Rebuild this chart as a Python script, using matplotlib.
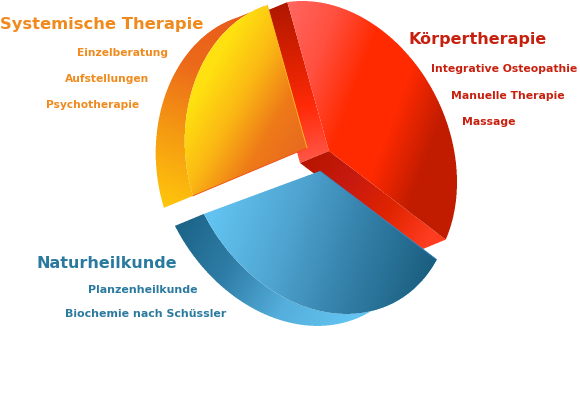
import numpy as np
import matplotlib
matplotlib.use("Agg")
import matplotlib.pyplot as plt
from matplotlib.path import Path
from matplotlib.colors import LinearSegmentedColormap

# Shares of the three slices (estimated from the angles in the picture)
slice_names = ["Körpertherapie", "Naturheilkunde", "Systemische Therapie"]
slice_shares = [37, 35, 28]

koerper_items = ["Integrative Osteopathie", "Manuelle Therapie", "Massage"]
natur_items = ["Planzenheilkunde", "Biochemie nach Schüssler"]
system_items = ["Einzelberatung", "Aufstellungen", "Psychotherapie"]

W, H = 580, 400
EXTRUDE = np.array([-29.0, 12.0])
SS = 3  # supersampling for the shape edges

fig = plt.figure(figsize=(5.8, 4.0), dpi=100)
ax = fig.add_axes([0, 0, 1, 1])
ax.set_xlim(0, W)
ax.set_ylim(H, 0)
ax.axis("off")


def arc_points(apex, t0, t1, shrink=0.0, shift0=(0, 0), shift1=(0, 0), n=80):
    # the pie is a tilted ellipse in pixel space, each slice is a bit off it
    u = np.linspace(0, 1, n)
    t = np.radians(t0 + (t1 - t0) * u)
    r = 1 - shrink * np.sin(np.pi * u)
    x = apex[0] + 128 * np.cos(t) * r + shift0[0] * (1 - u) + shift1[0] * u
    y = apex[1] + 150 * np.sin(t + np.radians(12)) * r + shift0[1] * (1 - u) + shift1[1] * u
    return np.column_stack([x, y])


def fill_gradient(points, p0, p1, stops):
    # linear gradient inside a polygon, edges smoothed with a supersampled mask
    cmap = LinearSegmentedColormap.from_list("g", stops)
    path = Path(np.vstack([points, points[:1]]))
    xs = (np.arange(W * SS) + 0.5) / SS
    ys = (np.arange(H * SS) + 0.5) / SS
    x0, y0 = points.min(axis=0)
    x1, y1 = points.max(axis=0)
    ix = (xs > x0 - 1) & (xs < x1 + 1)
    iy = (ys > y0 - 1) & (ys < y1 + 1)
    gx, gy = np.meshgrid(xs[ix], ys[iy])
    inside = path.contains_points(np.column_stack([gx.ravel(), gy.ravel()]))
    mask = np.zeros((H * SS, W * SS))
    mask[np.ix_(iy, ix)] = inside.reshape(gx.shape)
    alpha = mask.reshape(H, SS, W, SS).mean(axis=(1, 3))

    px, py = np.meshgrid(np.arange(W) + 0.5, np.arange(H) + 0.5)
    d = np.array(p1, float) - np.array(p0, float)
    f = ((px - p0[0]) * d[0] + (py - p0[1]) * d[1]) / (d @ d)
    rgba = cmap(np.clip(f, 0, 1))
    rgba[..., 3] = alpha
    ax.imshow(rgba, extent=(0, W, H, 0), interpolation="nearest", aspect="auto", zorder=fill_gradient.z)
    fill_gradient.z += 1


fill_gradient.z = 1

# angles of each slice from the shares
edges = -109 + np.cumsum([0] + slice_shares) * 3.6

apex_red = np.array([329.0, 151.0])
apex_blue = np.array([320.0, 171.0])
apex_yellow = np.array([307.0, 148.0])

# Körpertherapie
arc = arc_points(apex_red, edges[0], edges[1])
fill_gradient(np.array([apex_red, arc[0], arc[0] + EXTRUDE, apex_red + EXTRUDE]),
              (280, 5), (305, 160), ["#b01800", "#d82000", "#ff2a08", "#ff5545"])
fill_gradient(np.array([apex_red, arc[-1], arc[-1] + EXTRUDE, apex_red + EXTRUDE]),
              (305, 165), (425, 245), ["#b81500", "#c81a10", "#e02400", "#ff3c20"])
fill_gradient(np.vstack([[apex_red], arc]),
              (283, 20), (455, 85), ["#ff6660", "#ff5040", "#ff2a00", "#ff2a00", "#c21c00"])

# Systemische Therapie
arc = arc_points(apex_yellow, edges[2], edges[3], 0.08, (-3, 2), (2, 6))
fill_gradient(np.vstack([arc, (arc + EXTRUDE)[::-1]]),
              (180, 210), (255, 15), ["#ffc40c", "#f59a12", "#ec6a1a", "#e85a1c"])
fill_gradient(np.vstack([[apex_yellow], arc]),
              (200, 90), (305, 150), ["#ffe010", "#fbb814", "#ee7a18", "#e86a20"])
ax.plot([arc[0, 0], apex_yellow[0]], [arc[0, 1], apex_yellow[1]], color="#ee4a10", lw=0.6, zorder=12)
ax.plot([arc[-1, 0], apex_yellow[0]], [arc[-1, 1], apex_yellow[1]], color="#ffc020", lw=0.6, zorder=12)

# Naturheilkunde
arc = arc_points(apex_blue, edges[1], edges[2], 0.04, (0, 0), (-5, -3))
fill_gradient(np.vstack([arc, (arc + EXTRUDE)[::-1]]),
              (180, 225), (350, 320), ["#1c6488", "#2f7ea8", "#55aedb", "#62c3f0"])
fill_gradient(np.vstack([[apex_blue], arc]),
              (215, 210), (430, 275), ["#62c3f0", "#4fa4d0", "#337fa8", "#1b5f80"])
ax.plot([arc[0, 0], apex_blue[0]], [arc[0, 1], apex_blue[1]], color="#3a86c8", lw=0.6, zorder=12)

orange, red, blue = "#f08a1d", "#c8200f", "#2a7a9f"
font = dict(family="DejaVu Sans", fontweight="bold", va="baseline", ha="left")
ax.text(0, 29, slice_names[2], color=orange, fontsize=11.75, zorder=20, **font)
ax.text(408, 44, slice_names[0], color=red, fontsize=11.5, zorder=20, **font)
ax.text(36, 268, slice_names[1], color=blue, fontsize=11.5, zorder=20, **font)

for label, x, y in zip(system_items, [77, 65, 46], [56, 82, 108]):
    ax.text(x, y, label, color=orange, fontsize=7.7, zorder=20, **font)
for label, x, y in zip(koerper_items, [431, 451, 462], [72, 99, 125]):
    ax.text(x, y, label, color=red, fontsize=7.8, zorder=20, **font)
for label, x, y in zip(natur_items, [88, 65], [293, 317]):
    ax.text(x, y, label, color=blue, fontsize=7.95, zorder=20, **font)

fig.savefig("out.png", dpi=100)
